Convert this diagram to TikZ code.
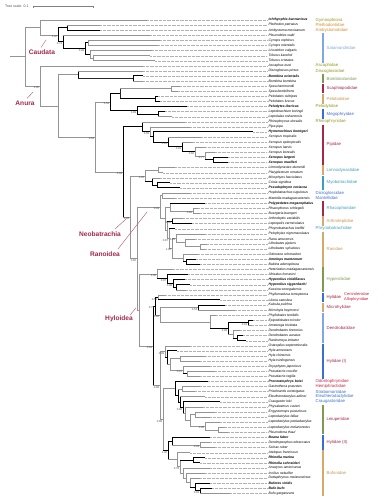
\documentclass[tikz,border=0pt]{standalone}
\usepackage{fontspec}
\setmainfont{Liberation Sans}
\usetikzlibrary{calc}
\definecolor{cOlv}{HTML}{8F9A1C}
\definecolor{cOrg}{HTML}{D98A2B}
\definecolor{cLblu}{HTML}{7FA9DE}
\definecolor{cGrn}{HTML}{7E9B4F}
\definecolor{cCrim}{HTML}{A3284A}
\definecolor{cTan}{HTML}{D6A86A}
\definecolor{cTand}{HTML}{C99550}
\definecolor{cBlu}{HTML}{3A6ED2}
\definecolor{cTeal}{HTML}{3A9FBA}
\definecolor{cDred}{HTML}{9E1E36}
\definecolor{cRd}{HTML}{C8203C}
\tikzset{
  brG/.style={draw=black!42, line width=0.45pt},
  brK/.style={draw=black, line width=1.0pt},
  brB/.style={draw=black!85, line width=0.6pt},
  lead/.style={draw=black!30, line width=0.25pt, dash pattern=on 0.5pt off 0.8pt},
  taxon/.style={anchor=west, inner sep=0pt, font=\fontsize{3.4}{3.6}\selectfont\itshape},
  fam/.style={anchor=west, inner sep=0pt, font=\fontsize{4.3}{5.09}\selectfont, align=left},
  sup/.style={anchor=north east, inner sep=0.2pt, xshift=-0.4pt, yshift=-0.3pt, text=black!70, font=\fontsize{2.8}{3}\selectfont},
  clab/.style={inner sep=0pt, text=cCrim, font=\fontsize{6.6}{7}\selectfont\bfseries},
  ptr/.style={draw=cCrim!80, line width=0.4pt}
}
\newcommand\Yr[1]{-14.91pt-5.09pt*(#1)}
\newcommand\tipN[4]{%
  \coordinate (#1) at (#3pt,{\Yr{#2}});
  \draw[lead] (#1) -- (267pt,{\Yr{#2}});
  \node[taxon] (#1l) at (268.5pt,{\Yr{#2}}) {#4};}
\newcommand\tipB[4]{%
  \coordinate (#1) at (#3pt,{\Yr{#2}});
  \draw[lead] (#1) -- (267pt,{\Yr{#2}});
  \node[taxon] (#1l) at (268.5pt,{\Yr{#2}}) {\bfseries #4};}
\newcommand\clade[7]{%
  \path let \p1=(#3), \p2=(#5) in (#2pt,{0.5*\y1+0.5*\y2}) coordinate (#1);
  \draw[#7] let \p1=(#3), \p2=(#5) in (#2pt,\y1) -- (#2pt,\y2);
  \draw[#4] let \p1=(#3) in (#2pt,\y1) -- (#3);
  \draw[#6] let \p2=(#5) in (#2pt,\y2) -- (#5);}
\newcommand\sv[2]{\node[sup] (s#1) at (#1) {#2};}
\newcommand\fbar[5]{%
  \draw[line width=2.6pt, draw=#3] (322.8pt,{\Yr{#1}+2.2pt}) -- (322.8pt,{\Yr{#2}-2.2pt});
  \node[fam, text=#5] (f#1) at (326.5pt,{0.5*(\Yr{#1})+0.5*(\Yr{#2})}) {#4};}
\newcommand\ftext[3]{\node[fam, text=#2] (ft#1) at (315.5pt,{\Yr{#1}}) {#3};}
\begin{document}
\begin{tikzpicture}
\fill[white] (0,0) rectangle (385pt,-500pt);
\useasboundingbox (0,0) rectangle (385pt,-500pt);
% scale bar
\node[anchor=west, inner sep=0pt, font=\fontsize{3.5}{4}\selectfont, text=black!70] (scl) at (5pt,-6.7pt) {Tree scale: 0.1};
\coordinate (sb1) at (33pt,-6.7pt);
\coordinate (sb2) at (93pt,-6.7pt);
\draw[draw=black!50, line width=0.4pt] (sb1) -- (sb2);
\draw[draw=black!50, line width=0.4pt] ($(sb1)+(0,1pt)$) -- ($(sb1)+(0,-1pt)$) ($(sb2)+(0,1pt)$) -- ($(sb2)+(0,-1pt)$);
% tips
\tipB{t1}{1}{147}{Ichthyophis bannanicus}
\tipN{t2}{2}{100}{Plethodon petraeus}
\tipN{t3}{3}{100}{Ambystoma mexicanum}
\tipN{t4}{4}{150}{Pleurodeles waltl}
\tipN{t5}{5}{160}{Cynops orphicus}
\tipN{t6}{6}{158}{Cynops orientalis}
\tipN{t7}{7}{152}{Lissotriton vulgaris}
\tipN{t8}{8}{150}{Triturus karelinii}
\tipN{t9}{9}{155}{Triturus cristatus}
\tipN{t10}{10}{143}{Ascaphus truei}
\tipN{t11}{11}{143}{Discoglossus pictus}
\tipB{t12}{12}{143}{Bombina orientalis}
\tipN{t13}{13}{143}{Bombina bombina}
\tipN{t14}{14}{180}{Spea hammondii}
\tipN{t15}{15}{178}{Spea bombifrons}
\tipN{t16}{16}{158}{Pelobates cultripes}
\tipN{t17}{17}{160}{Pelobates fuscus}
\tipB{t18}{18}{187}{Pelodytes ibericus}
\tipN{t19}{19}{165}{Leptobrachium boringii}
\tipN{t20}{20}{172}{Leptolalax oshanensis}
\tipN{t21}{21}{185}{Rhinophrynus dorsalis}
\tipN{t22}{22}{190}{Pipa pipa}
\tipB{t23}{23}{253}{Hymenochirus boettgeri}
\tipN{t24}{24}{201}{Xenopus tropicalis}
\tipN{t25}{25}{193}{Xenopus epitropicalis}
\tipN{t26}{26}{205}{Xenopus laevis}
\tipN{t27}{27}{215}{Xenopus borealis}
\tipB{t28}{28}{228}{Xenopus largeni}
\tipB{t29}{29}{228}{Xenopus muelleri}
\tipN{t30}{30}{175}{Limnodynastes dumerilii}
\tipN{t31}{31}{163}{Platyplectrum ornatum}
\tipN{t32}{32}{160}{Mixophyes fasciolatus}
\tipN{t33}{33}{170}{Crinia signifera}
\tipB{t34}{34}{180}{Pseudophryne coriacea}
\tipN{t35}{35}{190}{Hoplobatrachus rugulosus}
\tipN{t36}{36}{175}{Mantella madagascariensis}
\tipB{t37}{37}{205}{Polypedates megacephalus}
\tipN{t38}{38}{198}{Rhacophorus schlegelii}
\tipN{t39}{39}{200}{Buergeria buergeri}
\tipN{t40}{40}{183}{Arthroleptis variabilis}
\tipN{t41}{41}{192}{Leptopelis vermiculatus}
\tipN{t42}{42}{175}{Phrynobatrachus krefftii}
\tipN{t43}{43}{205}{Pelophylax nigromaculatus}
\tipN{t44}{44}{195}{Rana amurensis}
\tipN{t45}{45}{207}{Lithobates pipiens}
\tipN{t46}{46}{205}{Lithobates sylvaticus}
\tipN{t47}{47}{198}{Odorrana schmackeri}
\tipB{t48}{48}{196}{Amolops mantzorum}
\tipN{t49}{49}{200}{Babina adenopleura}
\tipN{t50}{50}{173}{Heterixalus madagascariensis}
\tipN{t51}{51}{188}{Afrixalus fornasini}
\tipB{t52}{52}{185}{Hyperolius viridiflavus}
\tipB{t53}{53}{190}{Hyperolius riggenbachi}
\tipN{t54}{54}{186}{Kassina senegalensis}
\tipN{t55}{55}{165}{Phyllomedusa tomopterna}
\tipN{t56}{56}{220}{Litoria caerulea}
\tipN{t57}{57}{225}{Kaloula pulchra}
\tipN{t58}{58}{235}{Microhyla heymonsi}
\tipN{t59}{59}{216}{Phyllobates terribilis}
\tipN{t60}{60}{253}{Epipedobates tricolor}
\tipN{t61}{61}{252}{Ameerega trivittata}
\tipN{t62}{62}{240}{Dendrobates tinctorius}
\tipN{t63}{63}{243}{Dendrobates auratus}
\tipN{t64}{64}{246}{Ranitomeya imitator}
\tipN{t65}{65}{190}{Osteopilus septentrionalis}
\tipN{t66}{66}{177}{Hyla annectans}
\tipN{t67}{67}{205}{Hyla chinensis}
\tipN{t68}{68}{200}{Hyla tsinlingensis}
\tipN{t69}{69}{210}{Dryophytes japonicus}
\tipN{t70}{70}{215}{Pseudacris crucifer}
\tipN{t71}{71}{200}{Pseudacris regilla}
\tipB{t72}{72}{208}{Proceratophrys boiei}
\tipN{t73}{73}{200}{Gastrotheca pseustes}
\tipN{t74}{74}{195}{Pristimantis unistrigatus}
\tipN{t75}{75}{205}{Eleutherodactylus atkinsi}
\tipN{t76}{76}{220}{Craugastor loki}
\tipN{t77}{77}{203}{Physalaemus cuvieri}
\tipN{t78}{78}{215}{Engystomops pustulosus}
\tipN{t79}{79}{210}{Leptodactylus fallax}
\tipN{t80}{80}{220}{Leptodactylus pentadactylus}
\tipN{t81}{81}{225}{Leptodactylus melanonotus}
\tipN{t82}{82}{228}{Pleurodema thaul}
\tipB{t83}{83}{210}{Boana faber}
\tipN{t84}{84}{210}{Dendropsophus ebraccatus}
\tipN{t85}{85}{215}{Scinax ruber}
\tipN{t86}{86}{190}{Atelopus franciscus}
\tipB{t87}{87}{205}{Rhinella marina}
\tipB{t88}{88}{200}{Rhinella schneideri}
\tipN{t89}{89}{210}{Anaxyrus americanus}
\tipN{t90}{90}{205}{Incilius nebulifer}
\tipN{t91}{91}{200}{Duttaphrynus melanostictus}
\tipB{t92}{92}{210}{Bufotes viridis}
\tipB{t93}{93}{212}{Bufo bufo}
\tipN{t94}{94}{230}{Bufo gargarizans}
% Caudata / Gymnophiona
\clade{C23}{67}{t2}{brG}{t3}{brK}{brK}
\clade{SA3}{88}{t5}{brG}{t6}{brG}{brG}
\clade{SA5}{93}{t8}{brG}{t9}{brG}{brG}
\clade{SA4}{90}{t7}{brG}{SA5}{brG}{brG}
\clade{SA2}{85}{SA3}{brK}{SA4}{brK}{brK}
\clade{SA}{63}{t4}{brG}{SA2}{brK}{brK}
\clade{CA}{58}{C23}{brK}{SA}{brK}{brK}
\clade{GC}{40}{t1}{brG}{CA}{brG}{brG}
% basal Anura
\clade{Bo}{133}{t12}{brK}{t13}{brG}{brK}
\clade{DB}{78}{t11}{brG}{Bo}{brB}{brK}
\clade{Sp}{171}{t14}{brG}{t15}{brG}{brG}
\clade{Pe}{155}{t16}{brK}{t17}{brK}{brK}
\clade{P2}{120}{Sp}{brG}{Pe}{brK}{brB}
\clade{Me}{158}{t19}{brK}{t20}{brG}{brK}
\clade{P3}{137}{t18}{brK}{Me}{brK}{brK}
\clade{PB}{110}{P2}{brK}{P3}{brK}{brK}
\clade{X5}{213}{t28}{brK}{t29}{brK}{brK}
\clade{X4}{205}{t27}{brG}{X5}{brK}{brG}
\clade{X3}{195}{t26}{brG}{X4}{brG}{brG}
\clade{X2}{182}{t25}{brG}{X3}{brK}{brK}
\clade{X1}{168}{t24}{brG}{X2}{brK}{brK}
\clade{Pp2}{153}{t23}{brK}{X1}{brK}{brK}
\clade{Pp}{150}{t22}{brG}{Pp2}{brK}{brG}
\clade{PI}{142}{t21}{brG}{Pp}{brK}{brK}
\clade{L}{158}{t30}{brG}{t31}{brG}{brG}
\clade{M2}{157}{t33}{brK}{t34}{brK}{brK}
\clade{M}{152}{t32}{brG}{M2}{brK}{brK}
\clade{MB}{145}{L}{brG}{M}{brK}{brG}
% Ranoidea
\clade{R1}{162}{t35}{brG}{t36}{brG}{brG}
\clade{Rh2}{193}{t38}{brG}{t39}{brG}{brG}
\clade{Rh}{170}{t37}{brK}{Rh2}{brG}{brG}
\clade{Ar}{172}{t40}{brG}{t41}{brK}{brK}
\clade{Ra1c}{200}{t45}{brG}{t46}{brG}{brG}
\clade{Ra1b}{185}{t44}{brG}{Ra1c}{brG}{brG}
\clade{Ra1}{176}{t43}{brG}{Ra1b}{brG}{brG}
\clade{Ra2b}{186}{t48}{brK}{t49}{brK}{brK}
\clade{Ra2}{183}{t47}{brG}{Ra2b}{brK}{brG}
\clade{Ra}{172}{Ra1}{brG}{Ra2}{brG}{brG}
\clade{R5}{169}{t42}{brK}{Ra}{brG}{brG}
\clade{R4}{167}{Ar}{brK}{R5}{brG}{brG}
\clade{R2}{165}{Rh}{brG}{R4}{brG}{brG}
\clade{RA}{160}{R1}{brG}{R2}{brG}{brG}
\clade{HP4}{176}{t53}{brK}{t54}{brG}{brK}
\clade{HP3}{173}{t52}{brK}{HP4}{brK}{brK}
\clade{HP2}{167}{t51}{brK}{HP3}{brK}{brK}
\clade{HP}{157}{t50}{brG}{HP2}{brK}{brG}
% Hyloidea
\clade{H1a}{158}{t55}{brG}{t56}{brK}{brG}
\clade{Mi}{198}{t57}{brK}{t58}{brG}{brK}
\clade{De5}{237}{t63}{brK}{t64}{brK}{brK}
\clade{De4}{233}{t62}{brG}{De5}{brK}{brG}
\clade{De3}{248}{t60}{brK}{t61}{brG}{brK}
\clade{De2}{228}{De3}{brK}{De4}{brG}{brK}
\clade{De}{210}{t59}{brG}{De2}{brK}{brG}
\clade{H1b}{160}{Mi}{brG}{De}{brG}{brG}
\clade{H1}{155}{H1a}{brK}{H1b}{brG}{brK}
\clade{Hy1d}{180}{t67}{brG}{t68}{brG}{brG}
\clade{Hy1f}{187}{t70}{brG}{t71}{brG}{brG}
\clade{Hy1e}{183}{t69}{brG}{Hy1f}{brK}{brG}
\clade{Hy1c}{170}{Hy1d}{brG}{Hy1e}{brG}{brG}
\clade{Hy1b}{167}{t66}{brK}{Hy1c}{brG}{brK}
\clade{Hy1}{165}{t65}{brG}{Hy1b}{brK}{brG}
\clade{LH3}{182}{t73}{brG}{t74}{brG}{brG}
\clade{Le5}{218}{t81}{brG}{t82}{brG}{brG}
\clade{Le4}{205}{t80}{brG}{Le5}{brG}{brG}
\clade{Le3}{195}{t78}{brG}{t79}{brG}{brG}
\clade{Le2}{190}{Le3}{brG}{Le4}{brG}{brG}
\clade{Le}{185}{t77}{brG}{Le2}{brG}{brG}
\clade{LH5}{183}{t76}{brK}{Le}{brG}{brK}
\clade{LH4}{180}{t75}{brG}{LH5}{brK}{brK}
\clade{LH2}{178}{LH3}{brG}{LH4}{brK}{brK}
\clade{LH}{175}{t72}{brK}{LH2}{brK}{brK}
\clade{HIIb}{200}{t84}{brG}{t85}{brG}{brG}
\clade{HII}{172}{t83}{brK}{HIIb}{brG}{brK}
\clade{Bu8}{200}{t93}{brK}{t94}{brG}{brK}
\clade{Bu7}{195}{t92}{brK}{Bu8}{brK}{brK}
\clade{Bu6}{190}{t91}{brG}{Bu7}{brK}{brG}
\clade{Bu5}{186}{t90}{brG}{Bu6}{brG}{brG}
\clade{Bu4}{183}{t89}{brG}{Bu5}{brG}{brG}
\clade{Bu3}{193}{t87}{brK}{t88}{brK}{brK}
\clade{Bu2}{180}{Bu3}{brK}{Bu4}{brG}{brG}
\clade{BF}{177}{t86}{brG}{Bu2}{brG}{brG}
\clade{BU}{168}{HII}{brK}{BF}{brG}{brK}
\clade{Hy2}{163}{LH}{brG}{BU}{brK}{brG}
\clade{H2}{160}{Hy1}{brG}{Hy2}{brG}{brG}
\clade{HY}{153}{H1}{brK}{H2}{brG}{brK}
\clade{RH2}{139}{HP}{brG}{HY}{brG}{brG}
\clade{RH}{137}{RA}{brG}{RH2}{brG}{brG}
\clade{NB}{130}{MB}{brG}{RH}{brG}{brG}
\clade{A4}{123}{PI}{brK}{NB}{brG}{brK}
\clade{A3}{95}{PB}{brG}{A4}{brG}{brG}
\clade{A2}{58}{DB}{brG}{A3}{brG}{brG}
\clade{AN}{40}{t10}{brG}{A2}{brG}{brG}
\clade{R0}{25}{GC}{brG}{AN}{brG}{brG}
\draw[brG] let \p1=(R0) in (10pt,\y1) -- (R0);
% support values
\sv{CA}{1.00} \sv{SA}{0.74} \sv{SA2}{0.99} \sv{AN}{1.00} \sv{A3}{0.63}
\sv{PB}{0.54} \sv{P3}{0.99} \sv{Pp}{0.55} \sv{X1}{0.95} \sv{X2}{0.91}
\sv{X3}{0.62} \sv{X4}{0.77} \sv{A4}{0.69} \sv{MB}{1.00} \sv{NB}{0.98}
\sv{RA}{0.99} \sv{Rh2}{0.96} \sv{Ar}{1.00} \sv{R5}{0.87} \sv{Ra}{1.00}
\sv{Ra1}{0.85} \sv{HP}{1.00} \sv{HP2}{0.97} \sv{HP3}{0.96} \sv{H1a}{0.51}
\sv{Mi}{0.53} \sv{H1b}{0.88} \sv{De2}{0.98} \sv{De3}{0.94} \sv{HY}{0.64}
\sv{H1}{0.73} \sv{H2}{0.98} \sv{Hy1}{0.99} \sv{Hy1e}{0.97} \sv{Hy2}{0.88}
\sv{LH5}{0.96} \sv{Le4}{0.96} \sv{BU}{1.00} \sv{HIIb}{0.99} \sv{Bu2}{0.78}
\sv{Bu8}{0.93} \sv{RH}{0.60}
% clade labels
\node[clab] (lCau) at (42pt,-52pt) {Caudata};
\coordinate (pCau) at (46pt,-40pt);
\draw[ptr] (41pt,-47.5pt) -- (pCau);
\node[clab] (lAnu) at (25pt,-103pt) {Anura};
\coordinate (pAnu) at (33pt,-92pt);
\draw[ptr] (27pt,-98.5pt) -- (pAnu);
\node[clab] (lNeo) at (100pt,-234pt) {Neobatrachia};
\coordinate (pNeo) at (126pt,-219pt);
\draw[ptr] (115pt,-229pt) -- (pNeo);
\node[clab] (lRan) at (105pt,-254pt) {Ranoidea};
\coordinate (pRan) at (147pt,-212pt);
\draw[ptr] (118pt,-249pt) -- (pRan);
\node[clab] (lHyl) at (119pt,-319pt) {Hyloidea};
\coordinate (pHyl) at (136pt,-308pt);
\draw[ptr] (130pt,-315pt) -- (pHyl);
% family annotations
\ftext{1}{cOlv}{Gymnophiona}
\ftext{2}{cOrg}{Plethodontidae}
\ftext{3}{cOrg}{Ambystomatidae}
\fbar{4}{9}{cLblu}{Salamandridae}{cLblu}
\ftext{10}{cOlv}{Ascaphidae}
\ftext{11}{cOlv}{Discoglossidae}
\fbar{12}{13}{cGrn}{Bombinatoridae}{cGrn}
\fbar{14}{15}{cCrim}{Scaphiopodidae}{cCrim}
\fbar{16}{17}{cTan}{Pelobatidae}{cTand}
\ftext{18}{cOlv}{Pelodytidae}
\fbar{19}{20}{cBlu}{Megophryidae}{cBlu}
\ftext{21}{cOlv}{Rhinophrynidae}
\fbar{22}{29}{cCrim}{Pipidae}{cCrim}
\fbar{30}{31}{cTan}{Limnodynastidae}{cTeal}
\fbar{32}{34}{cTeal}{Myobatrachidae}{cTeal}
\node[fam, text=cBlu] (ft35) at (315.5pt,{\Yr{35.5}}) {Dicroglossidae\\Mantellidae};
\fbar{37}{39}{cCrim}{Rhacophoridae}{cTeal}
\fbar{40}{41}{cTan}{Arthroleptidae}{cTand}
\ftext{42}{cTeal}{Phrynobatrachidae}
\fbar{43}{49}{cTan}{Ranidae}{cTand}
\fbar{50}{54}{cGrn}{Hyperoliidae}{cGrn}
\fbar{55}{56}{cBlu}{Hylidae}{cDred}
\node[fam, text=cRd, font=\fontsize{4}{5.09}\selectfont] (ft55) at (344pt,{\Yr{55.5}}) {Centrolenidae\\Allophrynidae};
\fbar{57}{58}{cTan}{Microhylidae}{cCrim}
\fbar{59}{64}{cLblu}{Dendrobatidae}{cCrim}
\fbar{65}{71}{cBlu}{Hylidae (I)}{cCrim}
\ftext{72}{cRd}{Odontophrynidae}
\ftext{73}{cRd}{Hemiphractidae}
\ftext{74}{cBlu}{Strabomantidae}
\ftext{75}{cBlu}{Eleutherodactylidae}
\ftext{76}{cBlu}{Craugastoridae}
\fbar{77}{82}{cGrn}{Leiuperidae}{cCrim}
\fbar{83}{85}{cBlu}{Hylidae (II)}{cCrim}
\fbar{86}{94}{cTan}{Bufonidae}{cTand}
\end{tikzpicture}
\end{document}
